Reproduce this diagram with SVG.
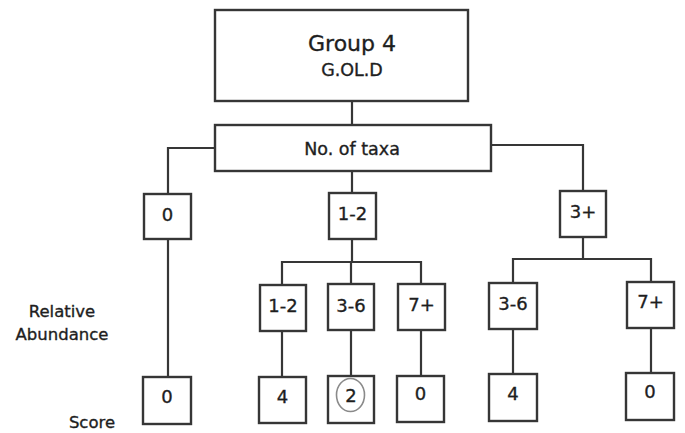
<svg xmlns="http://www.w3.org/2000/svg" width="685" height="433" viewBox="0 0 685 433">
<style>
.box{fill:#fff;stroke:#363636;stroke-width:2.4}
.ln{fill:none;stroke:#363636;stroke-width:2.2}
text{font-family:"DejaVu Sans","Liberation Sans",sans-serif;fill:#1e1e1e;stroke:#1e1e1e;stroke-width:0.35;text-anchor:middle}
.n{font-size:18px}
.lab{font-size:16.5px}
</style>
<rect width="685" height="433" fill="#fff"/>
<g id="connectors">
<path class="ln" d="M352 101V125"/>
<path class="ln" d="M215 148H168V194"/>
<path class="ln" d="M352 171V193"/>
<path class="ln" d="M491 145H583V191"/>
<path class="ln" d="M168 239V377"/>
<path class="ln" d="M352 239V262"/>
<path class="ln" d="M282 285V262H421V284"/>
<path class="ln" d="M351 262V284"/>
<path class="ln" d="M583 237V259"/>
<path class="ln" d="M513 283V259H651V282"/>
<path class="ln" d="M282 331V377"/>
<path class="ln" d="M351 330V376"/>
<path class="ln" d="M421 330V376"/>
<path class="ln" d="M513 329V374"/>
<path class="ln" d="M651 328V373"/>
</g>
<g id="group4">
<rect class="box" x="215" y="10" width="253" height="91"/>
<text x="352" y="51" style="font-size:22px">Group 4</text>
<text x="352" y="76" style="font-size:17.5px">G.OL.D</text>
</g>
<g id="taxa">
<rect class="box" x="215" y="125" width="276" height="46"/>
<text x="352" y="155" style="font-size:17.5px">No. of taxa</text>
</g>
<g id="t0"><rect class="box" x="144" y="194" width="47" height="45"/><text class="n" x="167.5" y="221">0</text></g>
<g id="t12"><rect class="box" x="329" y="193" width="47" height="46"/><text class="n" x="352.5" y="220">1-2</text></g>
<g id="t3p"><rect class="box" x="560" y="191" width="46" height="46"/><text class="n" x="583" y="218">3+</text></g>
<g id="a12"><rect class="box" x="260" y="285" width="46" height="46"/><text class="n" x="283" y="312">1-2</text></g>
<g id="a36"><rect class="box" x="328" y="284" width="46" height="46"/><text class="n" x="351" y="312">3-6</text></g>
<g id="a7p"><rect class="box" x="398" y="284" width="47" height="46"/><text class="n" x="421.5" y="311">7+</text></g>
<g id="b36"><rect class="box" x="489" y="283" width="48" height="46"/><text class="n" x="513" y="310">3-6</text></g>
<g id="b7p"><rect class="box" x="627" y="282" width="47" height="46"/><text class="n" x="650.5" y="308">7+</text></g>
<g id="s0a"><rect class="box" x="143" y="377" width="48" height="47"/><text class="n" x="167" y="403">0</text></g>
<g id="s4a"><rect class="box" x="259" y="377" width="47" height="46"/><text class="n" x="282.5" y="403">4</text></g>
<g id="s2"><rect class="box" x="328" y="376" width="46" height="47"/><text class="n" x="351" y="402">2</text>
<ellipse cx="350.5" cy="395" rx="14" ry="16.5" fill="none" stroke="#8a8a8a" stroke-width="1.6"/></g>
<g id="s0b"><rect class="box" x="397" y="376" width="47" height="46"/><text class="n" x="420.5" y="400">0</text></g>
<g id="s4b"><rect class="box" x="489" y="374" width="48" height="47"/><text class="n" x="513" y="400">4</text></g>
<g id="s0c"><rect class="box" x="626" y="373" width="48" height="47"/><text class="n" x="650" y="398">0</text></g>
<g id="labels">
<text class="lab" x="62" y="317">Relative</text>
<text class="lab" x="62" y="340">Abundance</text>
<text class="lab" x="92" y="428">Score</text>
</g>
</svg>
